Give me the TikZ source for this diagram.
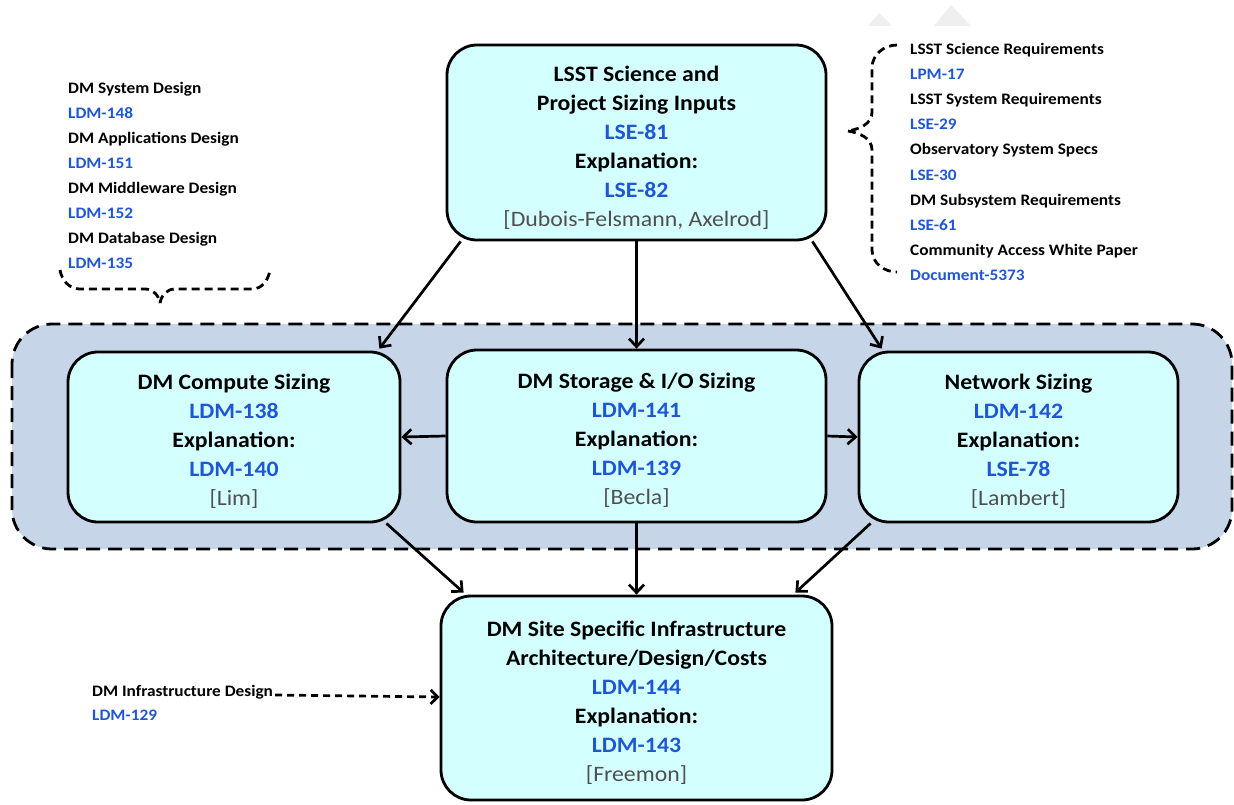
\documentclass[tikz,border=0pt]{standalone}
\usepackage{fontspec}
\setmainfont{Carlito}[FakeStretch=1.08]
\usetikzlibrary{arrows.meta,calc}
\definecolor{boxfill}{HTML}{D4FFFF}
\definecolor{bandfill}{HTML}{C6D5E8}
\definecolor{linkblue}{HTML}{1F56D3}
\definecolor{authgray}{HTML}{4F4F4F}
\definecolor{faint}{HTML}{EFEFEF}
\newcommand{\lk}[1]{{\color{linkblue}#1}}
\newcommand{\au}[1]{{\mdseries\color{authgray}#1}}
\tikzset{
  sizebox/.style={draw=black, line width=2.8pt, fill=boxfill, rounded corners=30pt, inner sep=0pt},
  boxtxt/.style={align=center, inner sep=0pt, font=\fontsize{22}{29}\selectfont\bfseries},
  arr/.style={line width=2.7pt, -{Straight Barb[length=8pt,width=15pt,line width=2.7pt]}},
  darr/.style={line width=2.7pt, dash pattern=on 7pt off 5pt, -{Straight Barb[length=7pt,width=14pt,line width=2.7pt]}},
  bracepath/.style={line width=2.8pt, dash pattern=on 8pt off 5pt},
  sidetxt/.style={anchor=base west, inner sep=0pt, font=\fontsize{16}{25}\selectfont\bfseries},
}
\begin{document}
\begin{tikzpicture}[x=1pt,y=-1pt]
\useasboundingbox (0,0) rectangle (1234,804);
% faint triangles
\fill[faint] (868,26) -- (879,13) -- (892,26) -- cycle;
\fill[faint] (934,26) -- (951,5) -- (971,26) -- cycle;
% band
\draw[line width=2.8pt, fill=bandfill, rounded corners=40pt, dash pattern=on 14pt off 8pt] (12,324) rectangle (1232,549);
% boxes
\node[sizebox, minimum width=379pt, minimum height=195pt] (top) at (636.5,142.5) {};
\node[boxtxt] (topT) at ([yshift=-5pt]top.center)
  {LSST Science and\\Project Sizing Inputs\\\lk{LSE-81}\\Explanation:\\\lk{LSE-82}\\\au{[Dubois-Felsmann, Axelrod]}};
\node[sizebox, minimum width=332pt, minimum height=170pt] (compute) at (234,437) {};
\node[boxtxt] (computeT) at ([yshift=-4pt]compute.center)
  {DM Compute Sizing\\\lk{LDM-138}\\Explanation:\\\lk{LDM-140}\\\au{[Lim]}};
\node[sizebox, minimum width=379pt, minimum height=172pt] (storage) at (636.5,436) {};
\node[boxtxt] (storageT) at ([yshift=-4pt]storage.center)
  {DM Storage \& I/O Sizing\\\lk{LDM-141}\\Explanation:\\\lk{LDM-139}\\\au{[Becla]}};
\node[sizebox, minimum width=319pt, minimum height=170pt] (network) at (1018.5,437) {};
\node[boxtxt] (networkT) at ([yshift=-4pt]network.center)
  {Network Sizing\\\lk{LDM-142}\\Explanation:\\\lk{LSE-78}\\\au{[Lambert]}};
\node[sizebox, minimum width=391pt, minimum height=204pt] (bottom) at (636.5,698) {};
\node[boxtxt] (bottomT) at ([yshift=-5pt]bottom.center)
  {DM Site Specific Infrastructure\\Architecture/Design/Costs\\\lk{LDM-144}\\Explanation:\\\lk{LDM-143}\\\au{[Freemon]}};
% arrows
\draw[arr] ([xshift=15pt]top.south west) -- ([xshift=-22pt,yshift=2pt]compute.north east);
\draw[arr] (top.south) -- (storage.north);
\draw[arr] ([xshift=-15pt]top.south east) -- ([xshift=24pt,yshift=2pt]network.north west);
\draw[arr] (storage.west) -- (compute.east);
\draw[arr] (storage.east) -- (network.west);
\draw[arr] ([xshift=-15pt]compute.south east) -- ([xshift=24pt,yshift=2pt]bottom.north west);
\draw[arr] (storage.south) -- (bottom.north);
\draw[arr] ([xshift=13pt]network.south west) -- ([xshift=-38pt,yshift=2pt]bottom.north east);
% left list
\node[sidetxt] (l1) at (68,93) {DM System Design};
\node[sidetxt] (l2) at (68,118) {\lk{LDM-148}};
\node[sidetxt] (l3) at (68,143) {DM Applications Design};
\node[sidetxt] (l4) at (68,168) {\lk{LDM-151}};
\node[sidetxt] (l5) at (68,193) {DM Middleware Design};
\node[sidetxt] (l6) at (68,218) {\lk{LDM-152}};
\node[sidetxt] (l7) at (68,243) {DM Database Design};
\node[sidetxt] (l8) at (68,268) {\lk{LDM-135}};
% left brace
\draw[bracepath] (60,270) to[out=-80,in=180] (80,289) -- (145,289) to[out=0,in=100] (160,303);
\draw[bracepath] (160,303) to[out=80,in=180] (175,289) -- (252,289) to[out=0,in=-100] (270,270);
% right list
\node[sidetxt] (r1) at (910,54) {LSST Science Requirements};
\node[sidetxt] (r2) at (910,79.2) {\lk{LPM-17}};
\node[sidetxt] (r3) at (910,104.4) {LSST System Requirements};
\node[sidetxt] (r4) at (910,129.6) {\lk{LSE-29}};
\node[sidetxt] (r5) at (910,154.8) {Observatory System Specs};
\node[sidetxt] (r6) at (910,180) {\lk{LSE-30}};
\node[sidetxt] (r7) at (910,205.2) {DM Subsystem Requirements};
\node[sidetxt] (r8) at (910,230.4) {\lk{LSE-61}};
\node[sidetxt] (r9) at (910,255.6) {Community Access White Paper};
\node[sidetxt] (r10) at (910,280.8) {\lk{Document-5373}};
% right brace
\draw[bracepath] (897,45) to[out=180,in=90] (872,68) -- (872,112) to[out=-90,in=10] (848,131);
\draw[bracepath] (848,131) to[out=-10,in=90] (872,150) -- (872,250) to[out=-90,in=180] (897,272);
% infrastructure input
\node[sidetxt] (inf) at (92,696) {DM Infrastructure Design};
\node[sidetxt] (inf2) at (92,720) {\lk{LDM-129}};
\draw[darr] ([xshift=2pt,yshift=1pt]inf.base east) -- (bottom.west |- 0,697);
\end{tikzpicture}
\end{document}
